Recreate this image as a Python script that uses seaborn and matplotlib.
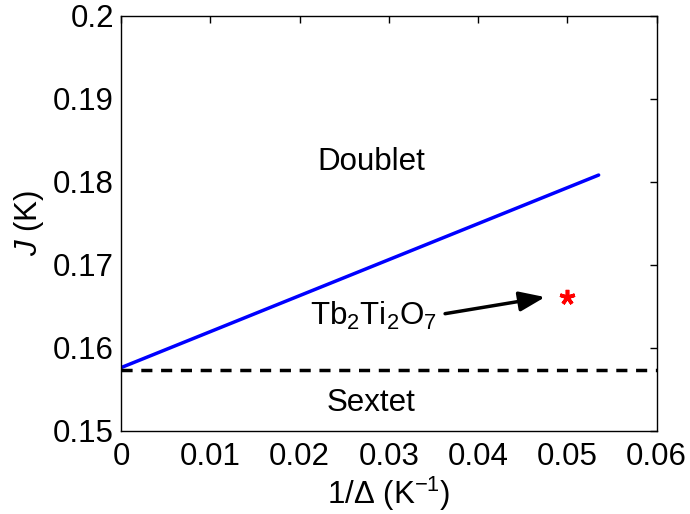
import numpy as np
import pandas as pd
import seaborn as sns
import matplotlib.pyplot as plt

# Data
inv_delta = [0.0, 0.0535]
j_boundary = [0.1576, 0.1808]
sextet_x = [0.0, 0.06]
sextet_j = [0.1573, 0.1573]
tb_x = [0.0499]
tb_j = [0.1661]

sns.set_theme(style="white")
plt.rcParams['font.family'] = ['Liberation Sans', 'DejaVu Sans']
plt.rcParams['mathtext.fontset'] = 'custom'
plt.rcParams['mathtext.rm'] = 'Liberation Sans'
plt.rcParams['mathtext.it'] = 'Liberation Sans:italic'
plt.rcParams['text.color'] = 'black'
plt.rcParams['axes.labelcolor'] = 'black'

fs = 22.5
fig, ax = plt.subplots(figsize=(6.9, 5.14), dpi=100)
fig.subplots_adjust(left=0.1754, right=0.9517, top=0.9695, bottom=0.162)

df_line = pd.DataFrame({"x": inv_delta, "J": j_boundary})
df_dash = pd.DataFrame({"x": sextet_x, "J": sextet_j})
sns.lineplot(data=df_line, x="x", y="J", color="#0000ff", linewidth=2.5, ax=ax)
sns.lineplot(data=df_dash, x="x", y="J", color="black", linewidth=2.5, ax=ax,
             linestyle=(0, (3.2, 2.5)))
ax.plot(tb_x, tb_j, marker=(5, 2, 0), linestyle="none", color="red",
        markersize=11, markeredgewidth=2.6)

ax.annotate("", xy=(0.0475, 0.1661), xytext=(0.0363, 0.1641),
            arrowprops=dict(arrowstyle="-|>,head_length=1.3,head_width=0.5",
                            color="black", lw=2.5, shrinkA=0, shrinkB=0))
ax.text(0.0283, 0.1638, r"Tb$_2$Ti$_2$O$_7$", fontsize=fs, ha="center", va="center")
ax.text(0.028, 0.1824, "Doublet", fontsize=fs, ha="center", va="center")
ax.text(0.028, 0.1533, "Sextet", fontsize=fs, ha="center", va="center")

ax.set_xlim(0, 0.06)
ax.set_ylim(0.15, 0.2)
ax.set_xticks(np.arange(0, 0.061, 0.01))
ax.set_xticklabels(["0", "0.01", "0.02", "0.03", "0.04", "0.05", "0.06"])
ax.set_yticks(np.arange(0.15, 0.2001, 0.01))
ax.set_yticklabels(["0.15", "0.16", "0.17", "0.18", "0.19", "0.2"])
ax.tick_params(direction="in", length=5, width=1, top=True, right=True,
               labelsize=fs, colors="black", pad=5)
ax.tick_params(axis="x", pad=8)
ax.set_xlabel(r"1/$\Delta$ (K$^{-1}$)", fontsize=fs, labelpad=2)
ax.set_ylabel(r"$J$ (K)", fontsize=fs, labelpad=5)
for s in ax.spines.values():
    s.set_color("black")
    s.set_linewidth(1)

plt.savefig("out.png", dpi=100)
